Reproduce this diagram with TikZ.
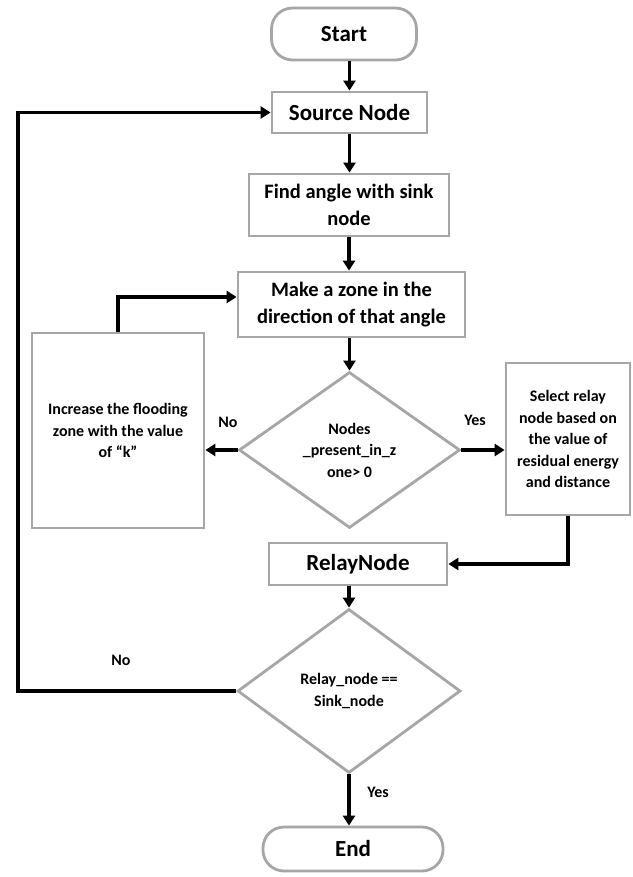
\documentclass[tikz,border=0pt]{standalone}
\usepackage{fontspec}
\setmainfont{Carlito}
\usetikzlibrary{shapes.geometric,arrows.meta}
\definecolor{boxgray}{RGB}{166,166,166}
\begin{document}
\begin{tikzpicture}[x=1pt,y=-1pt,
  base/.style={draw=boxgray, line width=2.8pt, fill=white, inner sep=2pt, align=center},
  bigtxt/.style={font=\fontsize{23}{27}\selectfont\bfseries},
  medtxt/.style={font=\fontsize{20.5}{27.5}\selectfont\bfseries},
  smalltxt/.style={font=\fontsize{16}{21.5}\selectfont\bfseries},
  boxnode/.style={base, rectangle},
  termnode/.style={base, rectangle, rounded corners=21pt},
  decision/.style={base, diamond, inner sep=0pt, smalltxt},
  conn/.style={draw=black, line width=3.6pt, -{Triangle[length=10pt,width=12pt]}},
  lbl/.style={smalltxt, inner sep=0pt}
]
\useasboundingbox (0,0) rectangle (632,877);
\node[termnode, bigtxt, minimum width=145pt, minimum height=52pt] (start) at (344,34) {Start};
\node[boxnode, bigtxt, minimum width=155pt, minimum height=41pt] (src) at (349.5,112.5) {Source Node};
\node[boxnode, medtxt, minimum width=200pt, minimum height=62pt] (find) at (349,205) {Find angle with sink\\node};
\node[boxnode, medtxt, minimum width=227pt, minimum height=65pt] (zone) at (351.5,304.5) {Make a zone in the\\direction of that angle};
\node[boxnode, smalltxt, minimum width=172pt, minimum height=195pt] (grow) at (118,430.5) {Increase the flooding\\zone with the value\\of “k”};
\node[decision, minimum width=221pt, minimum height=156pt] (d1) at (349.5,450) {Nodes\\\_present\_in\_z\\one> 0};
\node[boxnode, smalltxt, minimum width=124pt, minimum height=152pt] (sel) at (568,439) {Select relay\\node based on\\the value of\\residual energy\\and distance};
\node[boxnode, bigtxt, minimum width=178pt, minimum height=42pt] (relay) at (358,564) {RelayNode};
\node[decision, minimum width=223pt, minimum height=164pt] (d2) at (349,691) {Relay\_node ==\\Sink\_node};
\node[termnode, bigtxt, minimum width=180pt, minimum height=44pt] (end) at (353,849) {End};

\coordinate (gturn) at (118,297);
\coordinate (lb) at (18,691);
\coordinate (lt) at (18,112.5);

\draw[conn] (start.south -| src.north) -- (src.north);
\draw[conn] (src.south) -- (src.south |- find.north);
\draw[conn] (find.south) -- (find.south |- zone.north);
\draw[conn] (d1.north |- zone.south) -- (d1.north);
\draw[conn] (d1.west) -- (d1.west -| grow.east);
\draw[conn] (d1.east) -- (d1.east -| sel.west);
\draw[conn] (grow.north) -- (gturn) -- (gturn -| zone.west);
\draw[conn] (sel.south) |- (relay.east);
\draw[conn] (d2.north |- relay.south) -- (d2.north);
\draw[conn] (d2.south) -- (d2.south |- end.north);
\draw[conn] (d2.west) -- (lb) -- (lt) -- (src.west);

\node[lbl] (no1) at (228,422) {No};
\node[lbl] (yes1) at (475,420) {Yes};
\node[lbl] (no2) at (121,660) {No};
\node[lbl] (yes2) at (378,792) {Yes};
\end{tikzpicture}
\end{document}
